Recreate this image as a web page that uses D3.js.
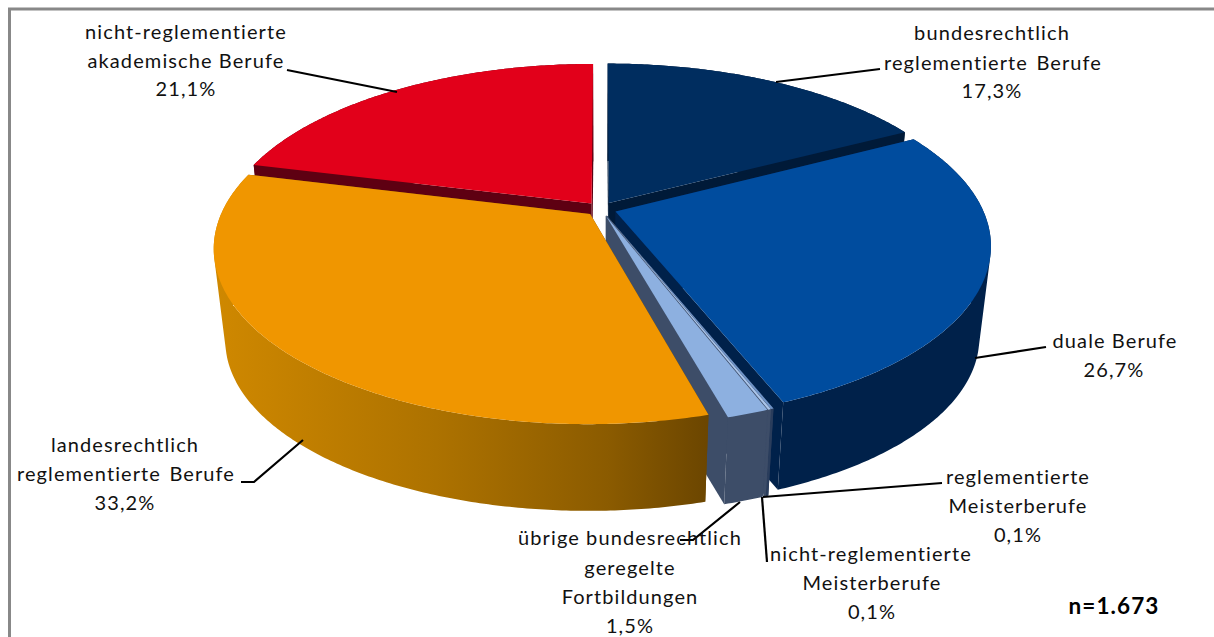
<!DOCTYPE html>
<html><head><meta charset="utf-8">
<script src="https://cdn.jsdelivr.net/npm/d3@7/dist/d3.min.js"></script>
<style>html,body{margin:0;padding:0;background:#fff;overflow:hidden}svg{display:block}text{font-family:Lato,"Open Sans",sans-serif;font-size:20px;letter-spacing:1.1px;font-variant-ligatures:none;fill:#111}</style>
</head><body><svg id="c" width="1214" height="637"></svg>
<script>
const categories = ["bundesrechtlich reglementierte Berufe","duale Berufe","reglementierte Meisterberufe","nicht-reglementierte Meisterberufe","übrige bundesrechtlich geregelte Fortbildungen","landesrechtlich reglementierte Berufe","nicht-reglementierte akademische Berufe"];
const values = [17.3,26.7,0.1,0.1,1.5,33.2,21.1];
const percentLabels = ["17,3%","26,7%","0,1%","0,1%","1,5%","33,2%","21,1%"];
const sampleNote = "n=1.673";

const topColors  = ["#002d5f","#004c9e","#6f94c8","#a9c4ea","#8db0e0","#f09600","#e2001a"];
const sideColors = ["#001a38","#00214a","#2a3d5c","#3d4d68","#3d4d68","url(#orangeWall)","#5e0012"];
const paintOrder = [6,0,1,2,3,4,5];

const cx=601, cy=209, S=367, T=168, k=0.19, explode=0.042;
const wallScale=0.97, vanishY=3314;
const project=(u,v)=>{const w=1-k*v;return [cx+S*u/w, cy+T*v/w];};
const svg=d3.select("#c");

const defs=svg.append("defs");
const g=defs.append("linearGradient").attr("id","orangeWall").attr("gradientUnits","userSpaceOnUse").attr("x1",216).attr("x2",706).attr("y1",0).attr("y2",0);
[[0,"#cf8800"],[0.45,"#ad7200"],[0.8,"#8b5b00"],[1,"#6c4600"]].forEach(s=>g.append("stop").attr("offset",s[0]).attr("stop-color",s[1]));

svg.append("path").attr("d","M9.5,637V9H1214").attr("fill","none").attr("stroke","#888").attr("stroke-width",3);

const arcs=d3.pie().sort(null).value(d=>d)(values);
const line=d3.line();
const pieG=svg.append("g");
const down=p=>[cx+(p[0]-cx)*wallScale, vanishY+(p[1]-vanishY)*wallScale];
const quad=(a,b)=>{
  const q=[a,b,down(b),down(a)];
  if(d3.polygonArea(q)<0) q.reverse();
  return line(q)+"Z";
};
paintOrder.forEach(i=>{
  const a=arcs[i], mid=(a.startAngle+a.endAngle)/2;
  const ox=explode*Math.sin(mid), oy=-explode*Math.cos(mid);
  const pt=t=>project(ox+Math.sin(t), oy-Math.cos(t));
  const apex=project(ox,oy);
  const n=Math.max(2,Math.ceil((a.endAngle-a.startAngle)/0.01));
  const rim=d3.range(n+1).map(j=>pt(a.startAngle+(a.endAngle-a.startAngle)*j/n));
  [rim[0],rim[n]].forEach(e=>{
    pieG.append("path").attr("d",quad(apex,e)).attr("fill",i===5?"#6c4600":sideColors[i]);
  });
  pieG.append("path").attr("d",d3.range(n).map(j=>quad(rim[j],rim[j+1])).join("")).attr("fill",sideColors[i]);
  pieG.append("path").attr("d",line([apex].concat(rim))+"Z").attr("fill",topColors[i]);
});

const leaders=[
 [[880,69],[776,82]],
 [[1046,347],[975,358]],
 [[942,483],[763,497]],
 [[762,497],[767,562]],
 [[740,502],[693,540],[680,540]],
 [[241,482],[254,482],[303,440]],
 [[287,70],[397,92]]
];
leaders.forEach(l=>svg.append("path").attr("d",line(l)).attr("fill","none").attr("stroke","#000").attr("stroke-width",2.2));

const labelLines=[
 [["bundesrechtlich",992,40],["reglementierte  Berufe",993,69.5],[percentLabels[0],992,98]],
 [["duale Berufe",1115,348],[percentLabels[1],1114,377]],
 [["reglementierte",1018,484],["Meisterberufe",1018,513],[percentLabels[2],1018,542]],
 [["nicht-reglementierte",871,561],["Meisterberufe",872,590],[percentLabels[3],872,619]],
 [["übrige bundesrechtlich",630,545],["geregelte",630,574.5],["Fortbildungen",630,603.5],[percentLabels[4],630,633]],
 [["landesrechtlich",125,452],["reglementierte  Berufe",126,481],[percentLabels[5],125,510]],
 [["nicht-reglementierte",186,38.5],["akademische Berufe",186,67.5],[percentLabels[6],186,96]]
];
labelLines.forEach(ls=>ls.forEach(l=>svg.append("text").attr("x",l[1]).attr("y",l[2]).attr("text-anchor","middle").style("white-space","pre").style("word-spacing",l[0].includes("  ")?"-2px":null).text(l[0])));
svg.append("text").attr("x",1114).attr("y",614).attr("text-anchor","middle").style("font-weight","700").style("font-size","22.5px").style("fill","#000").text(sampleNote);
</script></body></html>
